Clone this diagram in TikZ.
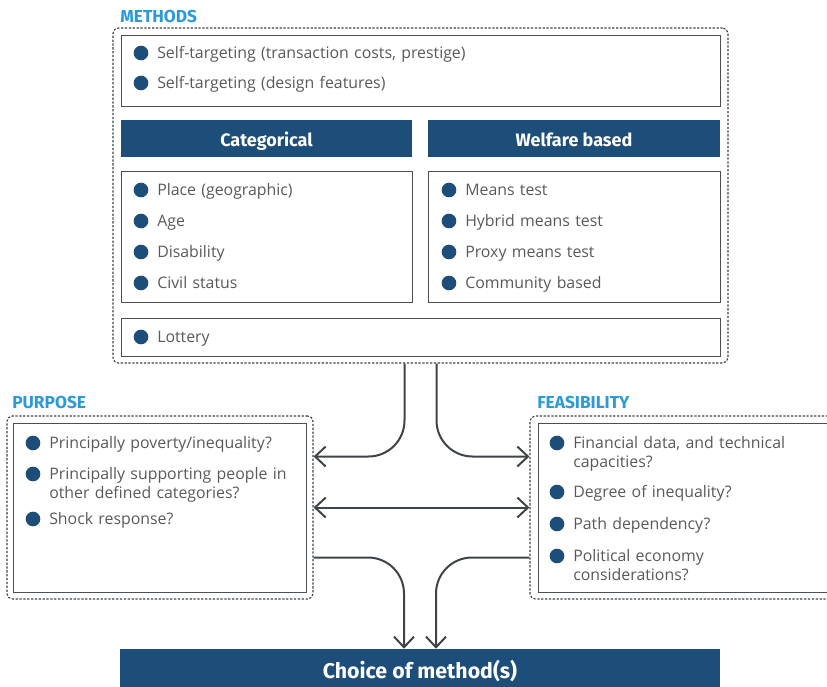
\documentclass[tikz,border=0pt]{standalone}
\usepackage{fontspec}
\setmainfont{Open Sans}
\newfontfamily\headfont{Fira Sans}
\usetikzlibrary{arrows.meta,calc,fit,positioning}
\definecolor{navy}{HTML}{1C4E79}
\definecolor{skyblue}{HTML}{2B9AD9}
\definecolor{darkline}{HTML}{3E4448}
\definecolor{boxline}{HTML}{4A5055}
\definecolor{bodytext}{HTML}{595959}
\newcommand{\bitem}[4]{%
  \node[dot] (#1dot) at (#2,#3) {};
  \node[item] (#1) at ($(#1dot)+(16,5)$) {#4};}

\begin{document}
\begin{tikzpicture}[x=0.75pt,y=-0.75pt,
  outer/.style={draw=darkline,line width=0.85pt,dash pattern=on 1.7pt off 1.2pt,rounded corners=4pt,inner sep=0pt},
  box/.style={draw=boxline,line width=0.75pt,inner sep=0pt},
  head/.style={fill=navy,inner sep=0pt},
  headtext/.style={inner sep=0pt,text height=9.5pt,text depth=0pt,yshift=-1pt,text=white,font=\headfont\bfseries\fontsize{13.5}{16}\selectfont},
  tag/.style={anchor=west,inner sep=0pt,text=skyblue,font=\headfont\bfseries\fontsize{13}{15}\selectfont},
  dot/.style={circle,fill=navy,minimum size=11pt,inner sep=0pt},
  item/.style={anchor=base west,inner sep=0pt,text=bodytext,text width=320pt,align=left,font=\fontsize{11.9}{14.25}\selectfont},
  conn/.style={draw=darkline,line width=1.5pt,rounded corners=27pt},
  arr/.style={-{Straight Barb[length=8pt,width=15pt]}}]
\useasboundingbox (0,0) rectangle (827,686);

\node[outer, fit={(113,28)(728,363)}] (methods) {};
\node[tag] (methodstag) at (120,16) {METHODS};
\node[box, fit={(121,35)(720,106)}] (selfbox) {};
\node[head, fit={(121,120)(412,157)}, label={[headtext]center:Categorical}] (cathead) {};
\node[head, fit={(428,120)(720,157)}, label={[headtext]center:Welfare based}] (welhead) {};
\node[box, fit={(121,171)(412,302)}] (catbox) {};
\node[box, fit={(428,171)(720,302)}] (welbox) {};
\node[box, fit={(121,318)(720,356)}] (lotbox) {};

\bitem{st1}{141}{53}{Self-targeting (transaction costs, prestige)}
\bitem{st2}{141}{83}{Self-targeting (design features)}
\bitem{ca1}{141}{190}{Place (geographic)}
\bitem{ca2}{141}{221}{Age}
\bitem{ca3}{141}{252}{Disability}
\bitem{ca4}{141}{283}{Civil status}
\bitem{we1}{449}{190}{Means test}
\bitem{we2}{449}{221}{Hybrid means test}
\bitem{we3}{449}{252}{Proxy means test}
\bitem{we4}{449}{283}{Community based}
\bitem{lot}{141}{337}{Lottery}

\node[outer, fit={(7,416)(313,599)}] (purpose) {};
\node[tag] (purposetag) at (12,402) {PURPOSE};
\node[box, fit={(13,423)(306,592)}] (purposein) {};
\bitem{pu1}{33}{443}{Principally poverty/inequality?}
\bitem{pu2}{33}{474}{Principally supporting people in\\other defined categories?}
\bitem{pu3}{33}{519}{Shock response?}

\node[outer, fit={(530,416)(845,599)}] (feas) {};
\node[tag] (feastag) at (537,402) {FEASIBILITY};
\node[box, fit={(538,423)(840,592)}] (feasin) {};
\bitem{fe1}{557}{443}{Financial data, and technical\\capacities?}
\bitem{fe2}{557}{492}{Degree of inequality?}
\bitem{fe3}{557}{524}{Path dependency?}
\bitem{fe4}{557}{556}{Political economy\\considerations?}

\node[head, fit={(120,649)(720,690)}, label={[headtext,text height=11pt,yshift=0pt,font=\headfont\bfseries\fontsize{16}{18}\selectfont]center:Choice of method(s)}] (choice) {};

\draw[conn,arr] ($(methods.south)+(-16,0)$) |- ($(purpose.east)+(0,-51)$);
\draw[conn,arr] ($(methods.south)+(16,0)$) |- ($(feas.west)+(0,-51)$);
\draw[conn,{Straight Barb[length=8pt,width=15pt]}-{Straight Barb[length=8pt,width=15pt]}] (purpose.east) -- (feas.west);
\draw[conn,arr] ($(purpose.east)+(0,50)$) -| ($(choice.north)+(-16,0)$);
\draw[conn,arr] ($(feas.west)+(0,50)$) -| ($(choice.north)+(16,0)$);
\end{tikzpicture}
\end{document}
